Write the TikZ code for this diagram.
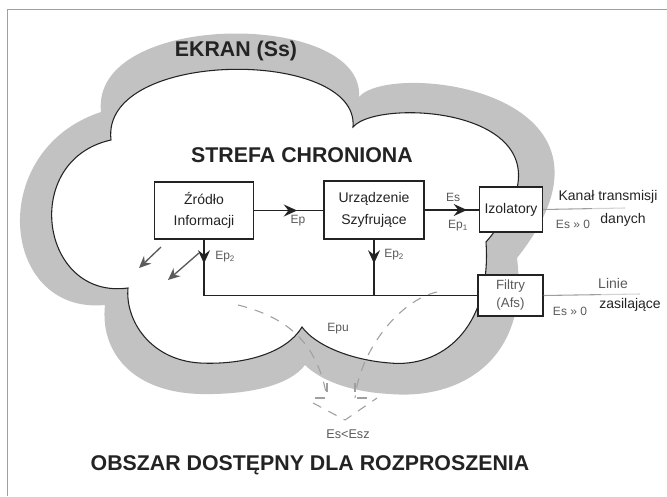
\documentclass[tikz,border=0pt]{standalone}
\usepackage{fontspec}
\setmainfont{Liberation Sans}
\usetikzlibrary{arrows.meta,decorations.markings,calc}
\definecolor{band}{RGB}{194,194,194}
\definecolor{ink}{RGB}{35,35,35}
\definecolor{soft}{RGB}{90,90,90}
\definecolor{framec}{RGB}{160,160,160}
\tikzset{
  box/.style={draw=ink, line width=0.8pt, fill=white, align=center, inner sep=0pt,
    font=\fontsize{10.5}{16}\selectfont, text=ink},
  wire/.style={draw=ink, line width=0.8pt},
  tip/.tip={Stealth[length=10pt,width=9pt,inset=3.5pt]},
  midarrow/.style={postaction={decorate}, decoration={markings,
    mark=at position #1 with {\arrow{tip}}}},
  lbl/.style={font=\fontsize{9}{11}\selectfont, text=soft, inner sep=0pt},
  side/.style={font=\fontsize{10.5}{12}\selectfont, text=ink, inner sep=0pt},
  heading/.style={font=\bfseries\fontsize{16}{19}\selectfont, text=ink, inner sep=0pt},
  outlet/.style={draw=gray!75, line width=0.8pt},
  outletfade/.style={draw=gray!35, line width=0.8pt},
  leak/.style={draw=soft, line width=1pt, -{Stealth[length=9pt,width=8pt,inset=3pt]}},
  scatter/.style={draw=gray!75, line width=0.8pt, dash pattern=on 7pt off 6pt},
}
\begin{document}
\begin{tikzpicture}[x=0.75pt,y=-0.75pt]
\useasboundingbox (0,0) rectangle (667,496);
% page frame
\draw[framec, line width=0.6pt] (7,496) -- (7,9) -- (667,9);

% screen (outer shell of the cloud)
\fill[band] (105,305)
  .. controls (0,315) and (-15,150) .. (101,112)
  .. controls (90,10) and (365,10) .. (359,97)
  .. controls (390,60) and (650,90) .. (517,258)
  .. controls (530,360) and (460,400) .. (390,394)
  .. controls (350,392) and (320,380) .. (305,365)
  .. controls (290,385) and (250,395) .. (200,394)
  .. controls (130,392) and (100,350) .. (105,305) -- cycle;

% protected zone (inner edge of the cloud)
\filldraw[fill=white, draw=ink, line width=0.8pt] (128,288)
  .. controls (40,300) and (20,160) .. (111,140)
  .. controls (100,48) and (360,48) .. (353,127)
  .. controls (380,95) and (600,110) .. (486,242)
  .. controls (492,330) and (440,368) .. (390,363)
  .. controls (350,360) and (315,345) .. (302,327)
  .. controls (285,355) and (240,365) .. (200,363)
  .. controls (150,360) and (125,320) .. (128,288) -- cycle;

% headings
\node[heading] (ekran) at (236,51) {EKRAN (Ss)};
\node[heading] (strefa) at (302,155) {STREFA CHRONIONA};
\node[heading] (obszar) at (310,465) {OBSZAR DOSTĘPNY DLA ROZPROSZENIA};

% blocks
\node[box, minimum width=74.25pt, minimum height=42.75pt] (zr) at (204,210.5) {Źródło\\Informacji};
\node[box, minimum width=75pt, minimum height=43.5pt] (ur) at (374,210) {Urządzenie\\Szyfrujące};
\node[box, minimum width=47.25pt, minimum height=33.75pt] (iz) at (511,209.5) {Izolatory};
\node[box, minimum width=48.75pt, minimum height=30.75pt, text=soft,
      font=\fontsize{10}{13.5}\selectfont] (fi) at (510.5,295.5) {Filtry\\(Afs)};

% signal path
\draw[wire, midarrow=0.62] (zr.east) -- (zr.east -| ur.west);
\draw[wire, midarrow=0.78] (ur.east) -- (ur.east -| iz.west);
\draw[wire, midarrow=18pt] (zr.south) -- (zr.south |- fi.west) -- (fi.west);
\draw[wire, midarrow=18pt] (ur.south) -- (ur.south |- fi.west);

% outgoing lines, fading out towards the page edge
\coordinate (kan) at (625,208);
\coordinate (zas) at (640,294);
\draw[outlet] (iz.east) -- ($(iz.east)!0.6!(kan)$) coordinate (kanm);
\draw[outletfade] (kanm) -- (kan);
\draw[outlet] (fi.east) -- ($(fi.east)!0.6!(zas)$) coordinate (zasm);
\draw[outletfade] (zasm) -- (zas);

% labels on the paths
\node[lbl] (ep) at (298,221) {Ep};
\node[lbl] (es) at (453,197) {Es};
\node[lbl] (ep1) at (458,226) {Ep\textsubscript{1}};
\node[lbl, anchor=west] (ep2a) at (215,257) {Ep\textsubscript{2}};
\node[lbl, anchor=west] (ep2b) at (384,255) {Ep\textsubscript{2}};
\node[side] (kanal) at (608,197) {Kanał transmisji};
\node[side] (danych) at (623,220) {danych};
\node[lbl] (es0a) at (573,224) {Es » 0};
\node[side, text=soft] (linie) at (613,283) {Linie};
\node[side] (zasil) at (630,305) {zasilające};
\node[lbl] (es0b) at (570,311) {Es » 0};

% stray emission inside the zone
\coordinate (l1s) at (161,247); \coordinate (l1e) at (139,268);
\coordinate (l2s) at (199,253); \coordinate (l2e) at (168,280);
\draw[leak] (l1s) -- (l1e);
\draw[leak] (l2s) -- (l2e);

% leakage through the screen
\node[lbl] (epu) at (338,329) {Epu};
\node[lbl, font=\fontsize{9.5}{11}\selectfont] (esz) at (348,434) {Es<Esz};
\coordinate (d1a) at (238,305); \coordinate (d1b) at (327,398);
\coordinate (d2a) at (437,292); \coordinate (d2b) at (355,398);
\draw[scatter] (d1a) .. controls (290,318) and (318,345) .. (d1b);
\draw[scatter] (327,383) -- (d1b) -- (312,398);
\draw[scatter] (d2a) .. controls (400,300) and (360,350) .. (d2b);
\draw[scatter] (355,383) -- (d2b) -- (370,398);
\draw[scatter] (313,403) -- (345,420) -- (377,398);
\end{tikzpicture}
\end{document}
